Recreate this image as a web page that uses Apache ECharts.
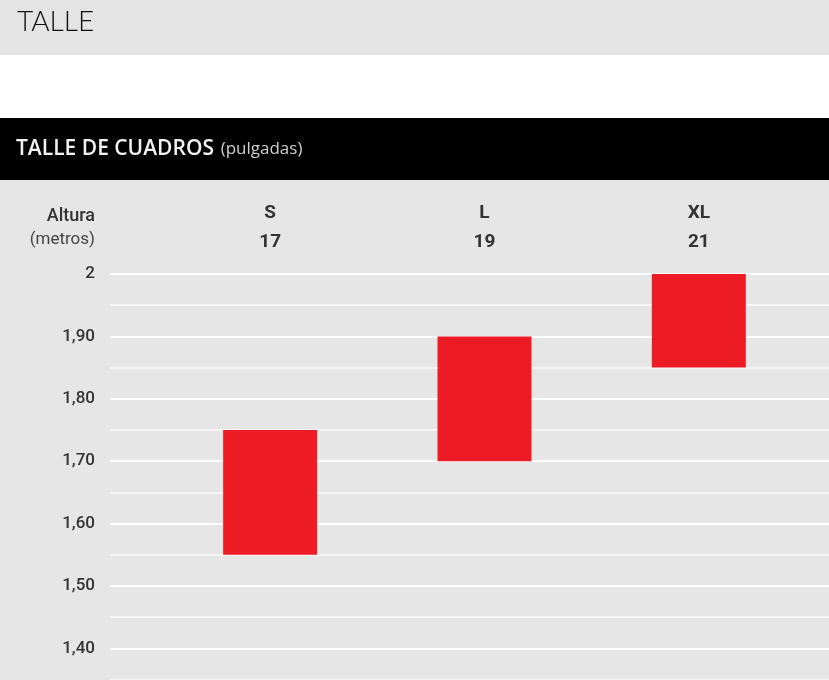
<!DOCTYPE html>
<html><head><meta charset="utf-8">
<script src="https://cdn.jsdelivr.net/npm/echarts@6/dist/echarts.min.js"></script>
<style>html,body{margin:0;padding:0;background:#fff}#c{width:829px;height:680px}</style>
</head><body><div id="c"></div>
<script>
const sizes = ['S', 'L', 'XL'];
const inches = ['17', '19', '21'];
const heightMin = [1.55, 1.70, 1.85];
const heightMax = [1.75, 1.90, 2.00];
const yTickValues = [1.40, 1.50, 1.60, 1.70, 1.80, 1.90, 2.00];
const yTickLabels = ['1,40', '1,50', '1,60', '1,70', '1,80', '1,90', '2'];

const chart = echarts.init(document.getElementById('c'));
const labelFor = v => {
  const i = yTickValues.findIndex(t => Math.abs(t - v) < 1e-6);
  return i >= 0 ? yTickLabels[i] : '';
};
const font = 'Roboto, "DejaVu Sans", sans-serif';
const yCommon = { type: 'value', min: 1.35, max: 2.0, interval: 0.05 };

chart.setOption({
  animation: false,
  backgroundColor: '#ffffff',
  graphic: [
    { type: 'rect', z: -10, shape: { x: 0, y: 0, width: 829, height: 55 }, style: { fill: '#e4e4e4' } },
    { type: 'rect', z: -10, shape: { x: 0, y: 118, width: 829, height: 62 }, style: { fill: '#000000' } },
    { type: 'rect', z: -10, shape: { x: 0, y: 180, width: 829, height: 500 }, style: { fill: '#e6e6e7' } },
    { type: 'text', x: 17, y: 22, style: { text: 'TALLE', verticalAlign: 'middle', font: '300 28px Lato, sans-serif', fill: '#111' } },
    { type: 'text', x: 16, y: 149, style: {
        text: '{a|TALLE DE CUADROS}  {b|(pulgadas)}',
        verticalAlign: 'middle',
        rich: {
          a: { fontFamily: '"Open Sans", sans-serif', fontWeight: 600, fontSize: 21, fill: '#f2f2f2', color: '#f2f2f2' },
          b: { fontFamily: '"Open Sans", sans-serif', fontSize: 17, fill: '#cfcfcf', color: '#cfcfcf' }
        } } },
    { type: 'text', x: 95, y: 216, style: { text: 'Altura', align: 'right', verticalAlign: 'middle', font: '500 18px ' + font, fill: '#333' } },
    { type: 'text', x: 95, y: 240, style: { text: '(metros)', align: 'right', verticalAlign: 'middle', font: '400 17px ' + font, fill: '#444' } }
  ],
  grid: [
    { left: 110, right: 0, top: 274, height: 405.5, containLabel: false },
    { left: 163, right: 23, top: 274, height: 405.5, containLabel: false }
  ],
  xAxis: [
    { gridIndex: 0, type: 'value', show: false, min: 0, max: 1 },
    { gridIndex: 1, type: 'category', position: 'top', data: sizes,
      axisLine: { show: false }, axisTick: { show: false },
      axisLabel: { margin: 17, formatter: (v, i) => '{a|' + v + '}\n{b|' + inches[i] + '}',
        rich: {
          a: { fontFamily: font, fontWeight: 'bold', fontSize: 19, color: '#333', lineHeight: 29 },
          b: { fontFamily: font, fontWeight: 'bold', fontSize: 19, color: '#333', lineHeight: 29 }
        } } }
  ],
  yAxis: [
    Object.assign({ gridIndex: 0 }, yCommon, {
      axisLine: { show: false }, axisTick: { show: false },
      axisLabel: { margin: 15, formatter: labelFor, fontFamily: font, fontWeight: 500, fontSize: 17, color: '#333' },
      splitLine: { show: true, lineStyle: { width: 2, color: ['#f6f6f6', '#ffffff'] } }
    }),
    Object.assign({ gridIndex: 1 }, yCommon, { show: false, splitLine: { show: false } })
  ],
  series: [
    { type: 'bar', xAxisIndex: 1, yAxisIndex: 1, stack: 'r', barWidth: 94, silent: true,
      itemStyle: { color: 'transparent' }, data: heightMin },
    { type: 'bar', xAxisIndex: 1, yAxisIndex: 1, stack: 'r', barWidth: 94,
      itemStyle: { color: '#ed1c24' },
      data: heightMax.map((v, i) => +(v - heightMin[i]).toFixed(4)) }
  ]
});
</script></body></html>
